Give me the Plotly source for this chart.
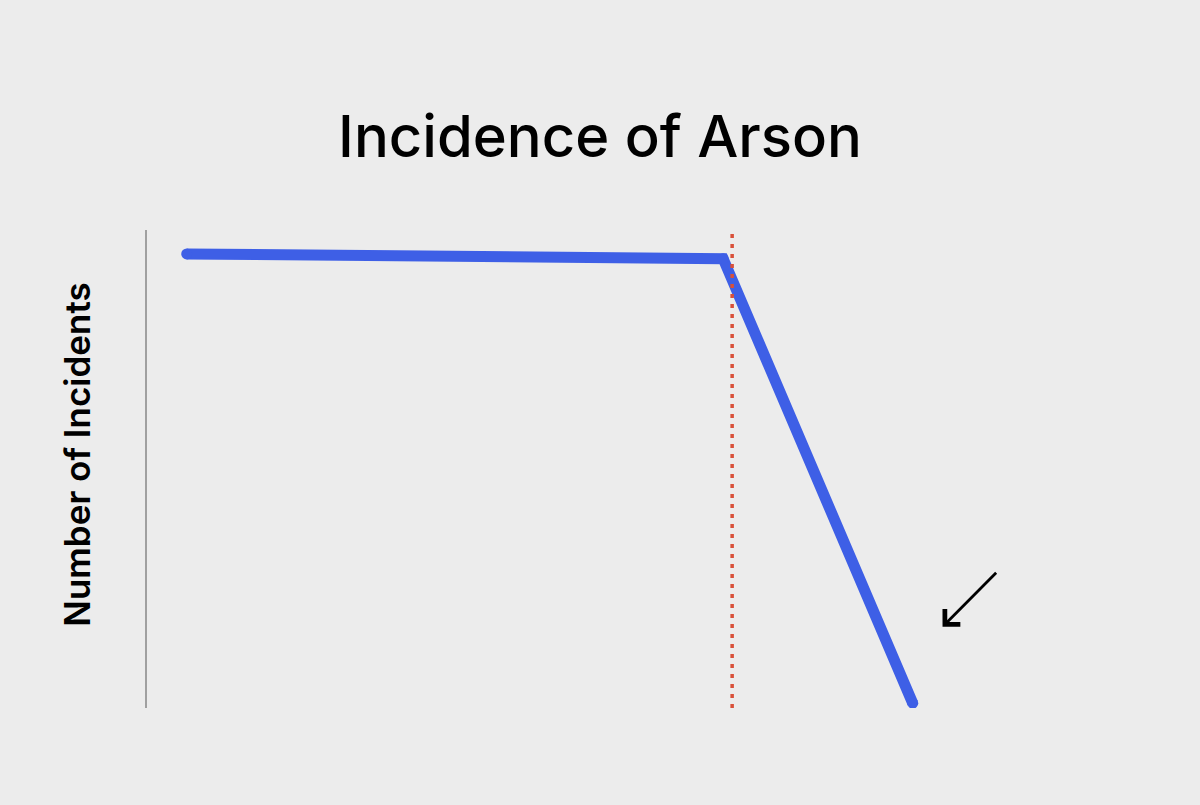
import plotly.graph_objects as go

# period (arbitrary time units) and incident counts
period = [4.4, 63.8, 84.8]
incidents = [95, 94, 1]

# event marker and arrow callout positions
event_period = 64.8
arrow_tip = (88.1, 17)
arrow_tail = (94.2, 28.6)

fig = go.Figure()

fig.add_trace(go.Scatter(x=period, y=incidents, mode="lines+markers",
    line=dict(color="#3e5fe6", width=11),
    marker=dict(color="#3e5fe6", size=11),
    hoverinfo="skip", showlegend=False))

# dotted red event line
fig.add_shape(type="line", xref="x", yref="paper",
    x0=event_period, x1=event_period, y0=0, y1=1.0,
    line=dict(color="#d9503a", width=3.5, dash="4px,6px"))

# arrow pointing at the end of the drop
fig.add_annotation(x=arrow_tip[0], y=arrow_tip[1], ax=arrow_tail[0], ay=arrow_tail[1],
    xref="x", yref="y", axref="x", ayref="y", text="",
    showarrow=True, arrowhead=4, arrowsize=1.5, arrowwidth=2.8, arrowcolor="black")

# y label sits a bit above the plot's middle, so place it as an annotation
fig.add_annotation(text="Number of Incidents", textangle=-90, showarrow=False,
    xref="paper", yref="paper", x=0, y=0.53, xanchor="center", yanchor="middle", xshift=-70,
    font=dict(family="Inter, Roboto, sans-serif", size=35, color="black", weight=600))

fig.update_xaxes(range=[0, 100], visible=False)
fig.update_yaxes(range=[0, 100], showticklabels=False, showgrid=False, zeroline=False,
    showline=True, linecolor="#a0a0a0", linewidth=1.5)

fig.update_layout(
    width=1200, height=805,
    title=dict(text="Incidence of Arson", x=0.5, xanchor="center", y=0.83, yanchor="middle",
               font=dict(family="Inter, Roboto, sans-serif", size=58, color="black", weight=500)),
    paper_bgcolor="#ececec", plot_bgcolor="#ececec",
    margin=dict(l=147, r=150, t=230, b=97),
)

fig.write_html("out.html", config={"displayModeBar": False},
               post_script="document.body.style.margin='0';")
